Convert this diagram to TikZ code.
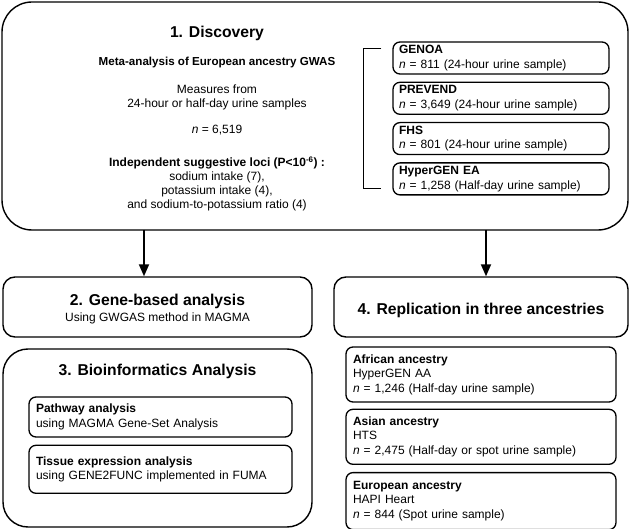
\documentclass[tikz,border=0pt]{standalone}
\usepackage{fontspec}
\setmainfont{Liberation Sans}
\usetikzlibrary{positioning,arrows.meta}

\begin{document}
\begin{tikzpicture}[x=1pt, y=-1pt, >={Triangle[width=10pt,length=12pt]},
    panel/.style={draw, line width=1.4pt, rounded corners=12pt, inner sep=0pt},
    subbox/.style={draw, line width=1.3pt, rounded corners=7pt, align=left,
        inner sep=7pt, font=\fontsize{12}{14.5}\selectfont},
    cohort/.style={subbox, inner xsep=6pt, inner ysep=2pt, text width=204pt, minimum height=32pt},
    headtext/.style={font=\fontsize{15.7}{18}\selectfont\bfseries},
    bodytext/.style={align=center, font=\fontsize{12}{14}\selectfont}]

    \useasboundingbox (0,0) rectangle (629,529);

    % Discovery panel
    \node[panel, rounded corners=30pt, minimum width=626pt, minimum height=228pt] (disc) at (315,116) {};
    \node[headtext] (discT) at (217,33) {1. Discovery};
    \node[bodytext, font=\fontsize{11.6}{14}\selectfont\bfseries] (meta) at (217,63) {Meta-analysis of European ancestry GWAS};
    \node[bodytext] (measures) at (217,97) {Measures from\\24-hour or half-day urine samples};
    \node[bodytext] (ntotal) at (217,130) {\textit{n} = 6,519};
    \node[bodytext] (loci) at (217,184) {\textbf{Independent suggestive loci (P<10\textsuperscript{-6}) :}\\
        sodium intake (7),\\potassium intake (4),\\and sodium-to-potassium ratio (4)};

    % Discovery cohorts
    \node[cohort] (genoa) at (501,58)
        {\textbf{GENOA}\\\textit{n} = 811 (24-hour urine sample)};
    \node[cohort, below=7pt of genoa] (prevend)
        {\textbf{PREVEND}\\\textit{n} = 3,649 (24-hour urine sample)};
    \node[cohort, below=7pt of prevend] (fhs)
        {\textbf{FHS}\\\textit{n} = 801 (24-hour urine sample)};
    \node[cohort, below=7pt of fhs] (hypea)
        {\textbf{HyperGEN EA}\\\textit{n} = 1,258 (Half-day urine sample)};

    % Bracket
    \coordinate (brTop) at ([xshift=-11pt, yshift=-7pt]genoa.north west);
    \coordinate (brBot) at ([xshift=-11pt, yshift=7pt]hypea.south west);
    \draw[line width=1.4pt] (brTop) -- ++(-18,0) |- (brBot);

    % Gene-based and replication panels
    \node[panel, minimum width=309pt, minimum height=60pt] (gene) at (157.5,307) {};
    \node[headtext] (geneT) at (157.5,301) {2. Gene-based analysis};
    \node[bodytext] (geneS) at (157.5,318) {Using GWGAS method in MAGMA};

    \node[panel, minimum width=294pt, minimum height=60pt] (repl) at (481,307) {};
    \node[headtext] (replT) at (481,310) {4. Replication in three ancestries};

    % Arrows
    \coordinate (splitL) at (144,230);
    \coordinate (splitR) at (486,230);
    \draw[->, line width=1.8pt] (splitL) -- (splitL |- gene.north);
    \draw[->, line width=1.8pt] (splitR) -- (splitR |- repl.north);

    % Bioinformatics panel
    \node[panel, rounded corners=25pt, minimum width=309pt, minimum height=178pt] (bioinf) at (157.5,438) {};
    \node[headtext] (bioinfT) at (157.5,371) {3. Bioinformatics Analysis};
    \node[subbox, text width=249pt, minimum height=40pt] (pathway) at (160.5,417)
        {\textbf{Pathway analysis}\\using MAGMA Gene-Set Analysis};
    \node[subbox, text width=249pt, minimum height=48pt, below=7pt of pathway] (tissue)
        {\textbf{Tissue expression analysis}\\using GENE2FUNC implemented in FUMA};

    % Replication cohorts
    \node[subbox, text width=256pt, minimum height=55pt] (african) at (481,374.5)
        {\textbf{African ancestry}\\HyperGEN AA\\\textit{n} = 1,246 (Half-day urine sample)};
    \node[subbox, text width=256pt, minimum height=55pt, below=6pt of african] (asian)
        {\textbf{Asian ancestry}\\HTS\\\textit{n} = 2,475 (Half-day or spot urine sample)};
    \node[subbox, text width=256pt, minimum height=57pt, below=7pt of asian] (european)
        {\textbf{European ancestry}\\HAPI Heart\\\textit{n} = 844 (Spot urine sample)};

\end{tikzpicture}
\end{document}
